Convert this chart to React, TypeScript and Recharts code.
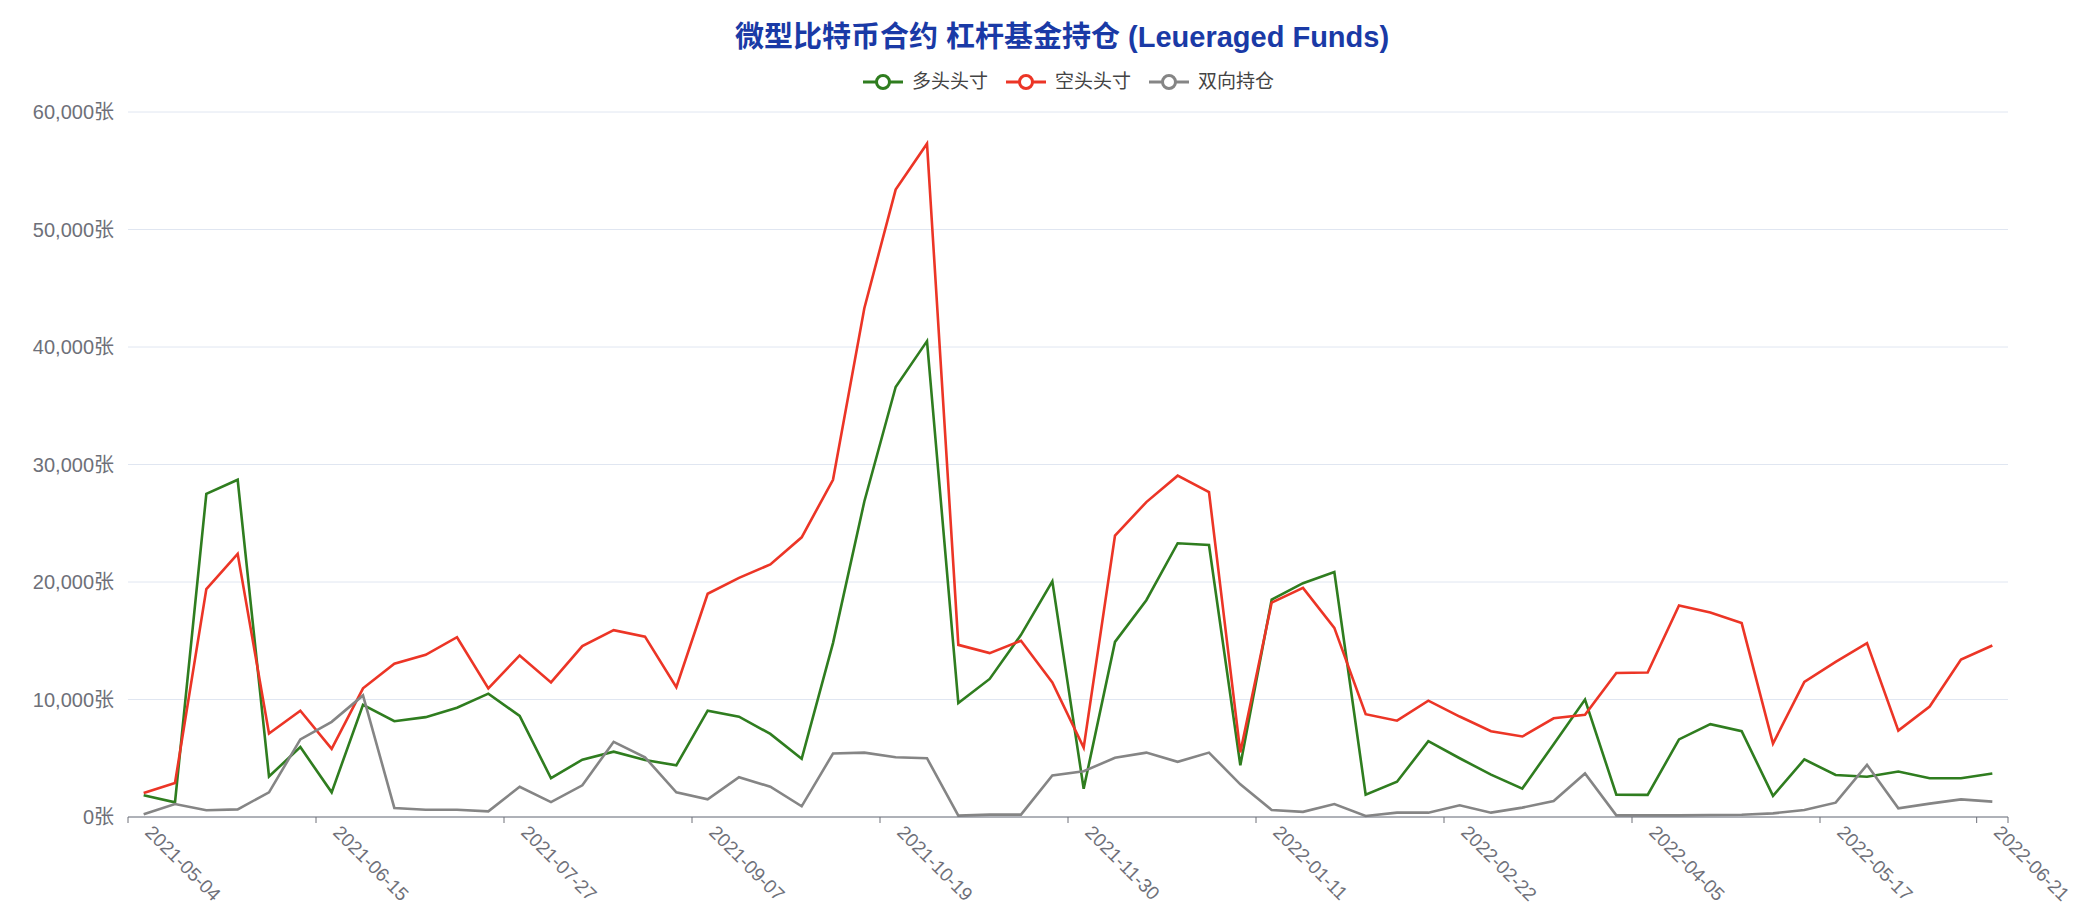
import { CartesianGrid, Line, LineChart, XAxis, YAxis } from "recharts";

const dates = [
  "2021-05-04", "2021-05-11", "2021-05-18", "2021-05-25", "2021-06-01", "2021-06-08", "2021-06-15", "2021-06-22", "2021-06-29", "2021-07-06",
  "2021-07-13", "2021-07-20", "2021-07-27", "2021-08-03", "2021-08-10", "2021-08-17", "2021-08-24", "2021-08-31", "2021-09-07", "2021-09-14",
  "2021-09-21", "2021-09-28", "2021-10-05", "2021-10-12", "2021-10-19", "2021-10-26", "2021-11-02", "2021-11-09", "2021-11-16", "2021-11-23",
  "2021-11-30", "2021-12-07", "2021-12-14", "2021-12-21", "2021-12-28", "2022-01-04", "2022-01-11", "2022-01-18", "2022-01-25", "2022-02-01",
  "2022-02-08", "2022-02-15", "2022-02-22", "2022-03-01", "2022-03-08", "2022-03-15", "2022-03-22", "2022-03-29", "2022-04-05", "2022-04-12",
  "2022-04-19", "2022-04-26", "2022-05-03", "2022-05-10", "2022-05-17", "2022-05-24", "2022-05-31", "2022-06-07", "2022-06-14", "2022-06-21",
];

// 多头头寸
const longPos = [
  1850, 1250, 27500, 28700, 3450, 5950, 2100, 9550, 8150, 8500,
  9300, 10500, 8600, 3300, 4880, 5560, 4850, 4400, 9050, 8540,
  7070, 4960, 14800, 26850, 36600, 40500, 9700, 11750, 15500, 20050,
  2400, 14900, 18450, 23300, 23150, 4400, 18500, 19900, 20850, 1900,
  3000, 6450, 5000, 3600, 2420, 6200, 10000, 1900, 1880, 6600,
  7900, 7300, 1800, 4900, 3580, 3420, 3870, 3300, 3300, 3700,
];

// 空头头寸
const shortPos = [
  2050, 2900, 19400, 22400, 7100, 9050, 5800, 10950, 13050, 13800,
  15300, 10950, 13750, 11450, 14550, 15900, 15350, 11050, 19000, 20350,
  21500, 23800, 28700, 43300, 53400, 57300, 14650, 13950, 15000, 11450,
  5900, 23950, 26800, 29050, 27650, 5500, 18250, 19500, 16100, 8750,
  8200, 9900, 8550, 7300, 6850, 8400, 8700, 12250, 12300, 18000,
  17400, 16500, 6250, 11500, 13200, 14800, 7350, 9400, 13400, 14600,
];

// 双向持仓
const spreadPos = [
  230, 1100, 570, 650, 2100, 6600, 8100, 10350, 770, 620,
  620, 480, 2570, 1270, 2700, 6400, 5080, 2100, 1500, 3380,
  2580, 910, 5400, 5480, 5080, 5000, 120, 200, 200, 3530,
  3890, 5040, 5480, 4700, 5480, 2780, 600, 440, 1100, 90,
  370, 370, 1000, 370, 800, 1360, 3700, 140, 140, 140,
  170, 190, 310, 600, 1220, 4440, 740, 1140, 1500, 1310,
];

const yTicks = [0, 10000, 20000, 30000, 40000, 50000, 60000];
const labelIdx = [0, 6, 12, 18, 24, 30, 36, 42, 48, 54, 59];

const GREEN = "#2f7d1f";
const RED = "#ec3526";
const GRAY = "#858585";
const AXIS = "#6e7079";
const FONT = "'Liberation Sans', Arial, 'Noto Sans CJK SC', sans-serif";

const W = 2099;
const H = 920;
const margin = { top: 112, right: 91, bottom: 0, left: 0 };
const Y_W = 128;
const band = (W - margin.left - margin.right - Y_W) / dates.length;

const series = [
  { name: "多头头寸", color: GREEN, values: longPos },
  { name: "空头头寸", color: RED, values: shortPos },
  { name: "双向持仓", color: GRAY, values: spreadPos },
];

const data = dates.map((d, i) => ({
  i,
  d,
  多头头寸: longPos[i],
  空头头寸: shortPos[i],
  双向持仓: spreadPos[i],
}));

// ticks sit on category boundaries, labels on category centres
const xTicks = [...labelIdx.map((k) => k - 0.5), dates.length - 0.5];

function DateTick({ x, y, payload }: any) {
  const idx = payload.value + 0.5;
  if (idx >= dates.length) return <g />;
  const cx = x + band / 2 + 5;
  const ty = y + 2;
  return (
    <text
      x={cx}
      y={ty}
      transform={`rotate(45 ${cx} ${ty})`}
      textAnchor="start"
      dominantBaseline="central"
      fill={AXIS}
      fontSize={19}
      fontFamily={FONT}
    >
      {dates[idx]}
    </text>
  );
}

function LegendIcon({ color }: { color: string }) {
  return (
    <svg width={40} height={20} style={{ display: "block" }}>
      <line x1={0} y1={10} x2={40} y2={10} stroke={color} strokeWidth={3} />
      <circle cx={20} cy={10} r={6.5} fill="#fff" stroke={color} strokeWidth={3} />
    </svg>
  );
}

export default function App() {
  return (
    <div
      style={{
        position: "absolute",
        left: 0,
        top: 0,
        width: W,
        height: H,
        background: "#fff",
        fontFamily: FONT,
      }}
    >
      <div
        style={{
          position: "absolute",
          left: 1062,
          top: 16,
          transform: "translateX(-50%)",
          whiteSpace: "nowrap",
          fontSize: 29,
          fontWeight: 700,
          color: "#1a3aa6",
          lineHeight: "42px",
        }}
      >
        微型比特币合约 杠杆基金持仓 (Leueraged Funds)
      </div>
      <div
        style={{
          position: "absolute",
          left: 863,
          top: 70,
          display: "flex",
          alignItems: "center",
          gap: 18,
          fontSize: 19,
          color: "#444",
          lineHeight: "24px",
          whiteSpace: "nowrap",
        }}
      >
        {series.map((s) => (
          <div key={s.name} style={{ display: "flex", alignItems: "center", gap: 9 }}>
            <LegendIcon color={s.color} />
            <span>{s.name}</span>
          </div>
        ))}
      </div>
      <LineChart width={W} height={H} data={data} margin={margin}>
        <CartesianGrid stroke="#e0e6f1" vertical={false} />
        <XAxis
          dataKey="i"
          type="number"
          domain={[-0.5, dates.length - 0.5]}
          ticks={xTicks}
          interval={0}
          height={103}
          stroke={AXIS}
          tickSize={6}
          tickMargin={4}
          tick={<DateTick />}
        />
        <YAxis
          domain={[0, 60000]}
          ticks={yTicks}
          interval={0}
          width={Y_W}
          axisLine={false}
          tickLine={false}
          tickSize={0}
          tickMargin={14}
          tick={{ fill: AXIS, fontSize: 20, fontFamily: FONT }}
          tickFormatter={(v: number) => v.toLocaleString("en-US") + "张"}
        />
        {series.map((s) => (
          <Line
            key={s.name}
            type="linear"
            dataKey={s.name}
            stroke={s.color}
            strokeWidth={2.6}
            dot={false}
            activeDot={false}
            isAnimationActive={false}
          />
        ))}
      </LineChart>
    </div>
  );
}
